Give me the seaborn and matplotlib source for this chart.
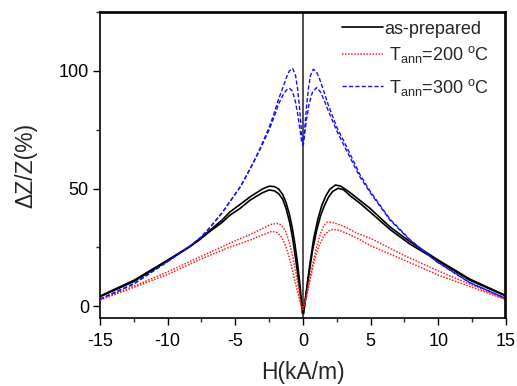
import numpy as np
import pandas as pd
import matplotlib
matplotlib.use("Agg")
import matplotlib.pyplot as plt
import seaborn as sns
from matplotlib.ticker import MultipleLocator
from matplotlib.lines import Line2D

# ---------------- data ----------------
# as-prepared, branch A (left peak higher) and branch B (right peak higher)
black_a_H = [-15, -12.5, -10, -8.35, -7.6, -6.87, -6, -5.39, -4.66, -3.9, -3, -2.5, -2.1, -1.8,
             -1.5, -1.25, -1.0, -0.8, -0.6, -0.4, -0.2, -0.05, 0.1, 0.25, 0.45, 0.7, 1.0, 1.3,
             1.6, 1.9, 2.2, 2.6, 3.0, 3.47, 4.2, 4.95, 6.43, 7.9, 9.88, 12.34, 15]
black_a_y = [4.3, 11, 19.6, 25.5, 28.8, 32.3, 36.5, 40.1, 43.2, 46.5, 49.8, 51, 50.8, 49.8,
             47.5, 44, 39, 33.5, 26.5, 18, 8, -3, 0, 6, 14, 23.5, 32, 38.5,
             43, 46.5, 48.8, 50.1, 49.5, 47, 43.8, 40.1, 32.6, 26.4, 19.6, 11, 4.3]
black_b_H = [-15, -12.5, -10, -8.35, -7.6, -6.87, -6, -5.39, -4.66, -3.9, -3, -2.5, -2.1, -1.8,
             -1.5, -1.25, -1.0, -0.8, -0.6, -0.4, -0.2, 0.05, 0.2, 0.35, 0.55, 0.8, 1.1, 1.4,
             1.7, 2.0, 2.4, 2.8, 3.47, 4.2, 4.95, 6.43, 7.9, 9.88, 12.34, 15]
black_b_y = [4.0, 10.5, 19.2, 25.3, 28.4, 31.8, 35.5, 38.7, 41.5, 45.1, 48.2, 49.4, 49, 47.8,
             45.5, 41.5, 36, 30, 22.5, 14, 5, -3.2, 4, 11, 19.5, 29, 37, 43,
             47, 49.8, 51.5, 51, 48.3, 45, 41.6, 33.7, 27.4, 20, 11.5, 4.5]

# T_ann = 200 C
red_a_H = [-15, -12.5, -10, -7.6, -5.39, -3.9, -3, -2.4, -1.95, -1.6, -1.3, -1.0, -0.75, -0.5,
           -0.3, -0.1, 0.1, 0.3, 0.55, 0.85, 1.2, 1.55, 1.9, 2.24, 2.8, 3.5, 4.2, 5, 7.5,
           10, 12.5, 15]
red_a_y = [2.8, 8.5, 14.6, 21, 26.8, 30.5, 33, 34.7, 35.2, 34.5, 32, 27, 21, 13.5,
           7, -1.5, 0.5, 5, 12, 19.5, 26, 30, 32, 32.7, 32, 30.3, 28.3, 25.7, 19.5,
           13.2, 8, 2.8]
red_b_H = [-15, -12.5, -10, -7.6, -5.39, -3.9, -3, -2.3, -1.9, -1.6, -1.3, -1.0, -0.75, -0.5,
           -0.25, 0, 0.2, 0.45, 0.7, 1.0, 1.3, 1.55, 1.8, 2.2, 3, 4, 5, 7.5, 10, 12.5, 15]
red_b_y = [2.6, 8, 13.5, 19.9, 25.2, 28.1, 30.3, 31.8, 31.3, 29.5, 26, 20.5, 14.5, 8.5,
           2.5, -1.5, 3, 10, 17.5, 25, 31, 34.3, 35.7, 35.6, 34, 31, 28.8, 21.5, 15, 8.9, 2.8]

# T_ann = 300 C
blue_a_H = [-15, -12.5, -10, -8.35, -7.5, -6.87, -6, -5.39, -4.66, -4.41, -3.67, -3.18, -2.5,
            -2.19, -1.8, -1.45, -1.2, -1.0, -0.76, -0.55, -0.4, -0.25, -0.12, -0.03, 0.1, 0.25,
            0.45, 0.7, 1.01, 1.3, 1.6, 1.87, 2.5, 3.1, 4.2, 5, 6.43, 7.9, 9.88, 12.34, 15]
blue_a_y = [3, 9.5, 19, 25.5, 29.5, 33.5, 39.5, 44.5, 50.5, 53, 61, 67, 76,
            81, 88, 93.5, 97.5, 100, 101, 98, 92.5, 84, 75, 68.5, 72, 79,
            86, 91, 92.9, 91, 87, 83, 74.5, 67.5, 55, 48, 36.6, 28.1, 18.9, 9.9, 3.3]
blue_b_H = [-15, -12.5, -10, -8.35, -7.5, -6.87, -6, -5.39, -4.66, -4.41, -3.67, -3.18, -2.5,
            -2.19, -1.8, -1.45, -1.2, -1.01, -0.8, -0.6, -0.4, -0.25, -0.1, 0.03, 0.12, 0.25,
            0.4, 0.55, 0.76, 1.0, 1.2, 1.5, 1.87, 2.5, 3.1, 4.2, 5, 6.43, 7.9, 9.88, 12.34, 15]
blue_b_y = [3, 9.5, 19, 25.5, 29.5, 33.5, 39.5, 44.5, 50.5, 53, 61, 66.5, 75,
            79.5, 86, 90, 92, 92.6, 91.5, 88, 82, 76, 70, 68.5, 75, 84,
            92.5, 98, 100.7, 99.5, 97, 92, 85.5, 76, 69.2, 56, 48.5, 37, 28.3, 19, 10, 3.3]

series_labels = ["as-prepared",
                 r" T$_{\rm ann}$=200 $^{\rm o}$C",
                 r" T$_{\rm ann}$=300 $^{\rm o}$C"]
x_ticks = [-15, -10, -5, 0, 5, 10, 15]
y_ticks = [0, 50, 100]

# ---------------- figure ----------------
sns.set_theme(style="ticks")
plt.rcParams["font.family"] = ["Liberation Sans", "DejaVu Sans"]
plt.rcParams["mathtext.fontset"] = "custom"
plt.rcParams["mathtext.rm"] = "Liberation Sans"
plt.rcParams["mathtext.it"] = "Liberation Sans:italic"
plt.rcParams["mathtext.bf"] = "Liberation Sans:bold"
plt.rcParams["axes.edgecolor"] = "black"

fig = plt.figure(figsize=(5.17, 3.86), dpi=100)
ax = fig.add_axes([0.1934, 0.1762, 0.7853, 0.7927])

styles = [
    dict(color="black", lw=1.2, ls="-"),
    dict(color="#ff2020", lw=1.1, ls=(0, (1, 1))),
    dict(color="#1010ff", lw=1.0, ls=(0, (3, 1.6))),
]
branches = [
    [(black_a_H, black_a_y), (black_b_H, black_b_y)],
    [(red_a_H, red_a_y), (red_b_H, red_b_y)],
    [(blue_a_H, blue_a_y), (blue_b_H, blue_b_y)],
]

ax.axvline(0, color="#333333", lw=1.2, zorder=1)

handles = []
for (st, brs) in zip(styles, branches):
    for i, (hh, yy) in enumerate(brs):
        df = pd.DataFrame({"H": hh, "dZ": yy})
        sns.lineplot(data=df, x="H", y="dZ", sort=False, estimator=None, ax=ax,
                     color=st["color"], linewidth=st["lw"], linestyle=st["ls"],
                     legend=False, zorder=3)
        if i == 0:
            handles.append(ax.lines[-1])

ax.set_xlim(-15, 15)
ax.set_ylim(-5, 125)
ax.set_xticks(x_ticks)
ax.set_xticklabels([str(t) for t in x_ticks])
ax.set_yticks(y_ticks)
ax.xaxis.set_minor_locator(MultipleLocator(2.5))
ax.yaxis.set_minor_locator(MultipleLocator(25))
ax.tick_params(axis="both", which="major", direction="out", length=5, width=1,
               labelsize=13, colors="black", pad=3)
ax.tick_params(axis="x", which="major", pad=6)
ax.tick_params(axis="both", which="minor", direction="out", length=3, width=1)
ax.tick_params(top=False, right=False, which="both")

ax.set_xlabel("H(kA/m)", fontsize=16.5, labelpad=8)
ax.set_ylabel("ΔZ/Z(%)", fontsize=16.5, labelpad=15)

# one legend row per series, placed at the reference's row positions
row_y = [0.9444, 0.8595, 0.7549]
for k, (h, lab) in enumerate(zip(handles, series_labels)):
    leg = ax.legend([h], [lab], loc="center left", bbox_to_anchor=(0.596, row_y[k]),
                    frameon=False, fontsize=13, handlelength=2.3, handletextpad=0.05,
                    borderaxespad=0, borderpad=0)
    if k < len(handles) - 1:
        ax.add_artist(leg)

for s in ax.spines.values():
    s.set_visible(True)
    s.set_color("black")
    s.set_linewidth(1.2)

# frame edges drawn in figure space, slightly inside the axes box
fig.canvas.draw()
bb = ax.get_position()
fig.add_artist(Line2D([bb.x0, bb.x1], [bb.y1 - 0.0015, bb.y1 - 0.0015], color="black",
                      lw=1.2, transform=fig.transFigure, zorder=10))
fig.add_artist(Line2D([bb.x1 - 0.001, bb.x1 - 0.001], [bb.y0, bb.y1], color="black",
                      lw=1.2, transform=fig.transFigure, zorder=10))

fig.savefig("out.png", dpi=100)
